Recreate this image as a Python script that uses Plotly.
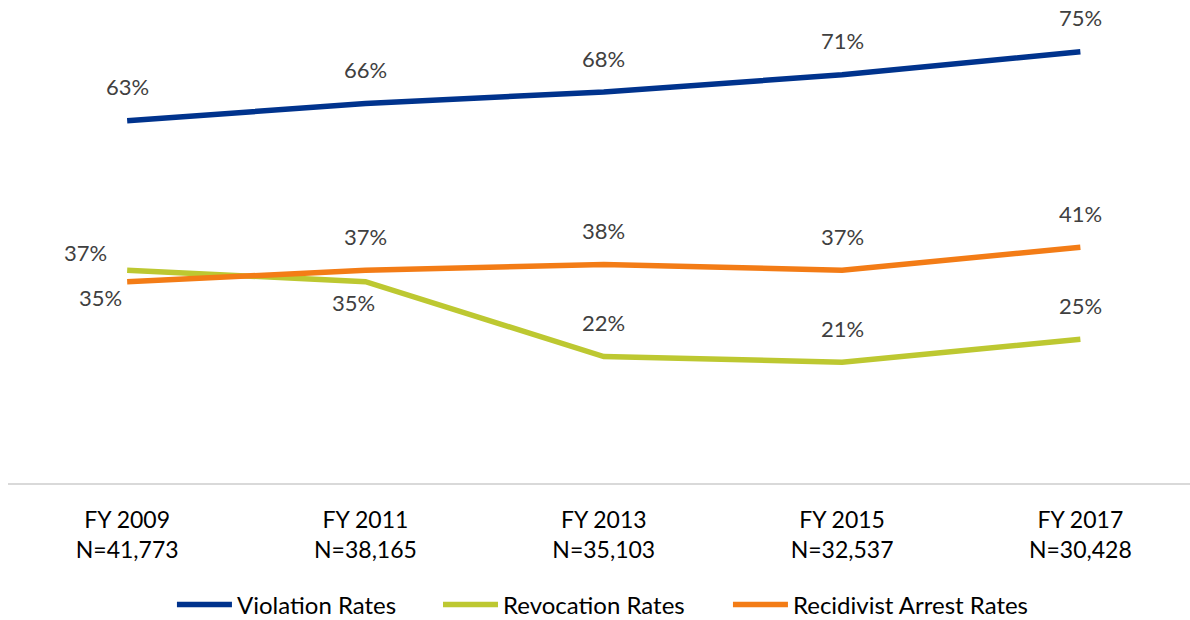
import plotly.graph_objects as go

categories = ["FY 2009<br>N=41,773", "FY 2011<br>N=38,165", "FY 2013<br>N=35,103",
              "FY 2015<br>N=32,537", "FY 2017<br>N=30,428"]
violation = [63, 66, 68, 71, 75]
revocation = [37, 35, 22, 21, 25]
recidivist = [35, 37, 38, 37, 41]

series = [
    ("Violation Rates", violation, "#00338D", "legend", 0.1387),
    ("Revocation Rates", revocation, "#BDC831", "legend2", 0.3638),
    ("Recidivist Arrest Rates", recidivist, "#F37C16", "legend3", 0.6091),
]

# label offset overrides (pixels): (series, index) -> (xshift, yshift)
label_offsets = {
    ("Revocation Rates", 0): (-42, 18),
    ("Recidivist Arrest Rates", 0): (-27, -16),
    ("Revocation Rates", 1): (-12, -21),
}
default_offset = (0, 34)

FONT = "Lato"
xs = list(range(len(categories)))

fig = go.Figure()
annotations = []
legends = {}
for name, vals, color, leg, lx in series:
    fig.add_trace(go.Scatter(
        x=xs, y=vals, mode="lines", name=name, legend=leg,
        line=dict(color=color, width=5.5),
    ))
    legends[leg] = dict(orientation="h", x=lx, xanchor="left", y=-0.265, yanchor="middle",
                        font=dict(family=FONT, size=24, color="#000000"),
                        itemwidth=55, bgcolor="rgba(0,0,0,0)")
    for i, v in enumerate(vals):
        dx, dy = label_offsets.get((name, i), default_offset)
        annotations.append(dict(
            x=xs[i], y=v, xref="x", yref="y", text=f"{v}%", showarrow=False,
            xshift=dx, yshift=dy, font=dict(family=FONT, size=22, color="#404040"),
        ))

fig.update_layout(
    width=1190, height=620,
    margin=dict(l=8, r=0, t=23, b=137, autoexpand=False),
    paper_bgcolor="white", plot_bgcolor="white",
    annotations=annotations,
    showlegend=True,
    **legends,
    xaxis=dict(tickmode="array", tickvals=xs, ticktext=categories,
               range=[-0.5, 4.46], showgrid=False, zeroline=False,
               showline=True, linecolor="#D9D9D9", linewidth=2, ticks="",
               ticklabelstandoff=15,
               tickfont=dict(family=FONT, size=23, color="#000000")),
    yaxis=dict(range=[0, 80], visible=False, showgrid=False, zeroline=False),
)

fig.write_html("out.html", config={"displayModeBar": False},
               post_script="document.body.style.margin='0';")
